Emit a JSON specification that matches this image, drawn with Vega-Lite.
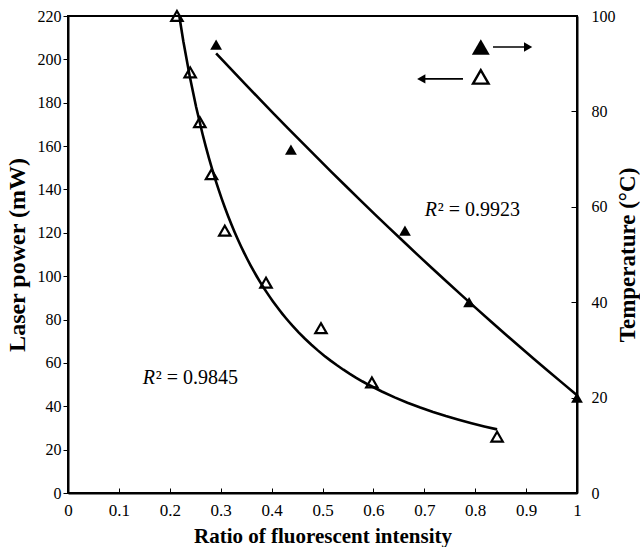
{
  "$schema": "https://vega.github.io/schema/vega-lite/v6.json",
  "width": 509,
  "height": 477,
  "autosize": "none",
  "padding": {"left": 68, "top": 16, "right": 63, "bottom": 54},
  "background": "white",
  "config": {
    "font": "Liberation Serif",
    "view": {"stroke": "black", "strokeWidth": 2},
    "axis": {
      "grid": false,
      "domainColor": "black",
      "domainWidth": 2,
      "tickColor": "black",
      "tickWidth": 1,
      "labelFont": "Liberation Serif",
      "labelFontSize": 16,
      "labelColor": "black",
      "labelFlush": false,
      "labelOverlap": false,
      "titleFont": "Liberation Serif",
      "titleFontWeight": "bold",
      "titleColor": "black",
      "titleFontSize": 22
    }
  },
  "datasets": {
    "laser": [
      {"ratio": 0.214, "power": 220},
      {"ratio": 0.240, "power": 194},
      {"ratio": 0.259, "power": 171},
      {"ratio": 0.282, "power": 147},
      {"ratio": 0.308, "power": 121},
      {"ratio": 0.389, "power": 97},
      {"ratio": 0.497, "power": 76},
      {"ratio": 0.597, "power": 51},
      {"ratio": 0.843, "power": 26}
    ],
    "temperature": [
      {"ratio": 0.291, "temp": 94},
      {"ratio": 0.438, "temp": 72},
      {"ratio": 0.662, "temp": 55},
      {"ratio": 0.788, "temp": 40},
      {"ratio": 1.0, "temp": 20}
    ],
    "keyFilled": [{"ratio": 0.811, "power": 205.7}],
    "keyOpen": [{"ratio": 0.811, "power": 191.9}],
    "arrows": [
      {"ratio": 0.835, "ratio2": 0.904, "power": 205.7},
      {"ratio": 0.776, "ratio2": 0.694, "power": 191.0}
    ],
    "heads": [
      {"ratio": 0.904, "power": 205.7, "dir": "right"},
      {"ratio": 0.694, "power": 191.0, "dir": "left"}
    ],
    "fits": [
      {"ratio": 0.147, "power": 53, "r": "R", "rest": "² = 0.9845"},
      {"ratio": 0.701, "power": 130.5, "r": "R", "rest": "² = 0.9923"}
    ]
  },
  "layer": [
    {
      "encoding": {
        "x": {
          "field": "ratio",
          "type": "quantitative",
          "scale": {"domain": [0, 1], "nice": false},
          "axis": {
            "title": "Ratio of fluorescent intensity",
            "values": [0, 0.1, 0.2, 0.3, 0.4, 0.5, 0.6, 0.7, 0.8, 0.9, 1],
            "format": "~g",
            "tickSize": -5,
            "labelPadding": 14,
            "labelFontSize": 17,
            "titleFontSize": 21,
            "titlePadding": 7
          }
        },
        "y": {
          "field": "power",
          "type": "quantitative",
          "scale": {"domain": [0, 220], "nice": false},
          "axis": {
            "orient": "left",
            "title": "Laser power (mW)",
            "values": [0, 20, 40, 60, 80, 100, 120, 140, 160, 180, 200, 220],
            "tickSize": 5,
            "labelPadding": 2,
            "titleFontSize": 24,
            "titlePadding": 8
          }
        }
      },
      "layer": [
        {
          "data": {"name": "laser"},
          "transform": [{"regression": "power", "on": "ratio", "method": "pow"}],
          "mark": {"type": "line", "color": "black", "strokeWidth": 2.6, "clip": true}
        },
        {
          "data": {"name": "laser"},
          "mark": {"type": "point", "shape": "triangle-up", "filled": false, "stroke": "black", "strokeWidth": 2.2, "size": 130, "opacity": 1}
        },
        {
          "data": {"name": "keyFilled"},
          "mark": {"type": "point", "shape": "triangle-up", "filled": true, "color": "black", "size": 320, "opacity": 1}
        },
        {
          "data": {"name": "keyOpen"},
          "mark": {"type": "point", "shape": "triangle-up", "filled": false, "stroke": "black", "strokeWidth": 2.4, "size": 240, "opacity": 1}
        },
        {
          "data": {"name": "arrows"},
          "mark": {"type": "rule", "color": "black", "strokeWidth": 1.6},
          "encoding": {"x2": {"field": "ratio2"}}
        },
        {
          "data": {"name": "heads"},
          "mark": {"type": "point", "filled": true, "color": "black", "size": 90, "opacity": 1},
          "encoding": {
            "shape": {
              "field": "dir",
              "type": "nominal",
              "scale": {"domain": ["right", "left"], "range": ["triangle-right", "triangle-left"]},
              "legend": null
            }
          }
        },
        {
          "data": {"name": "fits"},
          "mark": {"type": "text", "align": "left", "baseline": "middle", "fontSize": 20, "fontStyle": "italic", "font": "Liberation Serif", "color": "black"},
          "encoding": {"text": {"field": "r"}}
        },
        {
          "data": {"name": "fits"},
          "mark": {"type": "text", "align": "left", "baseline": "middle", "fontSize": 20, "dx": 13, "font": "Liberation Serif", "color": "black"},
          "encoding": {"text": {"field": "rest"}}
        }
      ]
    },
    {
      "encoding": {
        "x": {
          "field": "ratio",
          "type": "quantitative",
          "scale": {"domain": [0, 1], "nice": false},
          "axis": {
            "title": "Ratio of fluorescent intensity",
            "values": [0, 0.1, 0.2, 0.3, 0.4, 0.5, 0.6, 0.7, 0.8, 0.9, 1],
            "format": "~g",
            "tickSize": -5,
            "labelPadding": 14,
            "labelFontSize": 17,
            "titleFontSize": 21,
            "titlePadding": 7
          }
        },
        "y": {
          "field": "temp",
          "type": "quantitative",
          "scale": {"domain": [0, 100], "nice": false},
          "axis": {
            "orient": "right",
            "title": "Temperature (°C)",
            "values": [0, 20, 40, 60, 80, 100],
            "tickSize": -6,
            "labelPadding": 20,
            "titleAngle": -90,
            "titleBaseline": "top",
            "titleFontSize": 23,
            "titlePadding": 1
          }
        }
      },
      "layer": [
        {
          "data": {"name": "temperature"},
          "transform": [{"regression": "temp", "on": "ratio", "method": "poly", "order": 2}],
          "mark": {"type": "line", "color": "black", "strokeWidth": 2.6}
        },
        {
          "data": {"name": "temperature"},
          "mark": {"type": "point", "shape": "triangle-up", "filled": true, "color": "black", "size": 140, "opacity": 1}
        }
      ]
    }
  ],
  "resolve": {"scale": {"y": "independent"}}
}
